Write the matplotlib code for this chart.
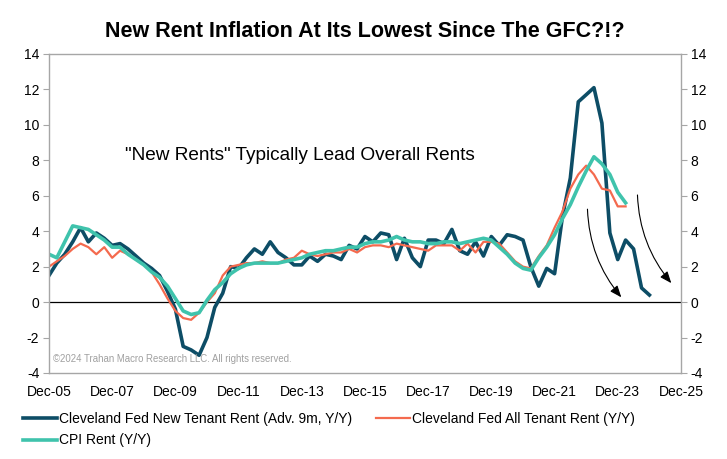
import numpy as np
import pandas as pd
import matplotlib
matplotlib.use("Agg")
import matplotlib.pyplot as plt
import matplotlib.dates as mdates

plt.rcParams['font.family'] = ['Liberation Sans', 'DejaVu Sans']
plt.rcParams['axes.unicode_minus'] = False

# quarterly readings, first point Dec-05
new_tenant = [1.5, 2.2, 2.7, 3.4, 4.2, 3.4, 3.9, 3.6, 3.2, 3.3,
              3.0, 2.6, 2.2, 1.9, 1.5, 0.6, -0.4, -2.5, -2.7, -3.0,
              -2.0, -0.3, 0.5, 2.0, 1.9, 2.5, 3.0, 2.7, 3.4, 2.8,
              2.5, 2.1, 2.1, 2.6, 2.3, 2.7, 2.6, 2.4, 3.2, 3.0,
              3.7, 3.4, 3.9, 3.8, 2.4, 3.6, 2.5, 2.0, 3.5, 3.5,
              3.3, 4.1, 2.9, 2.7, 3.4, 2.6, 3.7, 3.2, 3.8, 3.7,
              3.5, 2.0, 0.9, 1.9, 1.6, 4.8, 7.0, 11.3, 11.7, 12.1,
              10.1, 3.9, 2.4, 3.5, 3.0, 0.8, 0.4]
all_tenant = [2.0, 2.3, 2.6, 3.0, 3.3, 3.1, 2.7, 3.1, 2.5, 2.9,
              2.7, 2.4, 2.1, 1.7, 1.0, 0.2, -0.5, -0.9, -1.0, -0.6,
              0.0, 0.5, 1.5, 2.0, 2.1, 2.2, 2.2, 2.3, 2.2, 2.2,
              2.4, 2.5, 2.9, 2.7, 2.6, 2.7, 2.8, 2.8, 3.0, 2.8,
              3.1, 3.2, 3.2, 3.1, 3.3, 3.2, 3.1, 3.0, 2.9, 3.2,
              3.2, 3.2, 2.9, 3.3, 2.8, 3.4, 3.4, 3.3, 2.8, 2.3,
              2.0, 1.9, 2.6, 3.2, 4.2, 5.1, 6.4, 7.2, 7.7, 7.2,
              6.4, 6.3, 5.4, 5.4]
cpi_rent = [2.7, 2.5, 3.4, 4.3, 4.2, 4.1, 3.8, 3.5, 3.1, 3.1,
            2.7, 2.4, 2.1, 1.7, 1.4, 0.9, 0.2, -0.5, -0.7, -0.6,
            0.1, 0.7, 1.1, 1.6, 1.9, 2.1, 2.2, 2.2, 2.2, 2.2,
            2.3, 2.4, 2.5, 2.7, 2.8, 2.9, 2.9, 3.0, 3.1, 3.1,
            3.3, 3.4, 3.4, 3.5, 3.7, 3.5, 3.4, 3.4, 3.3, 3.3,
            3.4, 3.4, 3.3, 3.4, 3.5, 3.6, 3.5, 3.1, 2.7, 2.2,
            1.9, 1.8, 2.5, 3.1, 3.8, 4.7, 5.5, 6.5, 7.4, 8.2,
            7.8, 7.2, 6.2, 5.6]

labels = ["Cleveland Fed New Tenant Rent (Adv. 9m, Y/Y)",
          "Cleveland Fed All Tenant Rent (Y/Y)",
          "CPI Rent (Y/Y)"]
colors = ["#0D4D66", "#F46A4E", "#3FC3AC"]

d_new = pd.date_range("2005-12-01", periods=len(new_tenant), freq="3MS")
d_all = pd.date_range("2005-12-01", periods=len(all_tenant), freq="3MS")
d_cpi = pd.date_range("2005-12-01", periods=len(cpi_rent), freq="3MS")

fig = plt.figure(figsize=(7.27, 4.59), dpi=100)
ax = fig.add_axes([0.0674, 0.1874, 0.8693, 0.695])

l1, = ax.plot(d_new, new_tenant, color=colors[0], lw=2.6, label=labels[0])
l2, = ax.plot(d_all, all_tenant, color=colors[1], lw=1.6, label=labels[1])
l3, = ax.plot(d_cpi, cpi_rent, color=colors[2], lw=2.6, label=labels[2])
ax.axhline(0, color="black", lw=0.9, zorder=1)

ax.set_ylim(-4, 14)
ax.set_yticks(range(-4, 15, 2))
ax.set_xlim(pd.Timestamp("2005-12-01"), pd.Timestamp("2025-12-01"))
ax.xaxis.set_major_locator(mdates.MonthLocator(bymonth=12, interval=24))
ax.xaxis.set_major_formatter(mdates.DateFormatter("%b-%y"))

for s in ax.spines.values():
    s.set_color("#A6A6A6")
    s.set_linewidth(1.0)
ax.tick_params(axis="y", colors="#A6A6A6", labelcolor="black", labelsize=10,
               length=4, direction="out", left=True, right=True,
               labelleft=True, labelright=True, pad=3)
ax.tick_params(axis="x", length=0, labelsize=10, pad=9)

ax.set_title("New Rent Inflation At Its Lowest Since The GFC?!?",
             family=["Liberation Sans Narrow", "Liberation Sans"],
             fontweight="bold", fontsize=15.5, pad=12)

ax.text(pd.Timestamp("2008-05-01"), 8.25,
        "\"New Rents\" Typically Lead Overall Rents", fontsize=13.7,
        va="center", ha="left")
ax.text(0.006, 0.035, "\u00a92024 Trahan Macro Research LLC. All rights reserved.",
        transform=ax.transAxes, fontsize=6.9, color="#A0A0A0")

arrow_kw = dict(arrowstyle="-|>,head_length=0.7,head_width=0.28",
                color="black", lw=0.8, connectionstyle="arc3,rad=0.18")
ax.annotate("", xy=(pd.Timestamp("2024-02-01"), 0.15),
            xytext=(pd.Timestamp("2022-12-15"), 5.4), arrowprops=arrow_kw)
ax.annotate("", xy=(pd.Timestamp("2025-09-01"), 0.95),
            xytext=(pd.Timestamp("2024-07-15"), 6.2), arrowprops=arrow_kw)

fig.legend(handles=[l1, l3, l2], loc="upper left", ncol=2,
           bbox_to_anchor=(0.024, 0.115), frameon=False, fontsize=10,
           handlelength=2.45, handletextpad=0.15, columnspacing=1.7,
           labelspacing=0.55, borderaxespad=0)

fig.savefig("out.png", dpi=100)
